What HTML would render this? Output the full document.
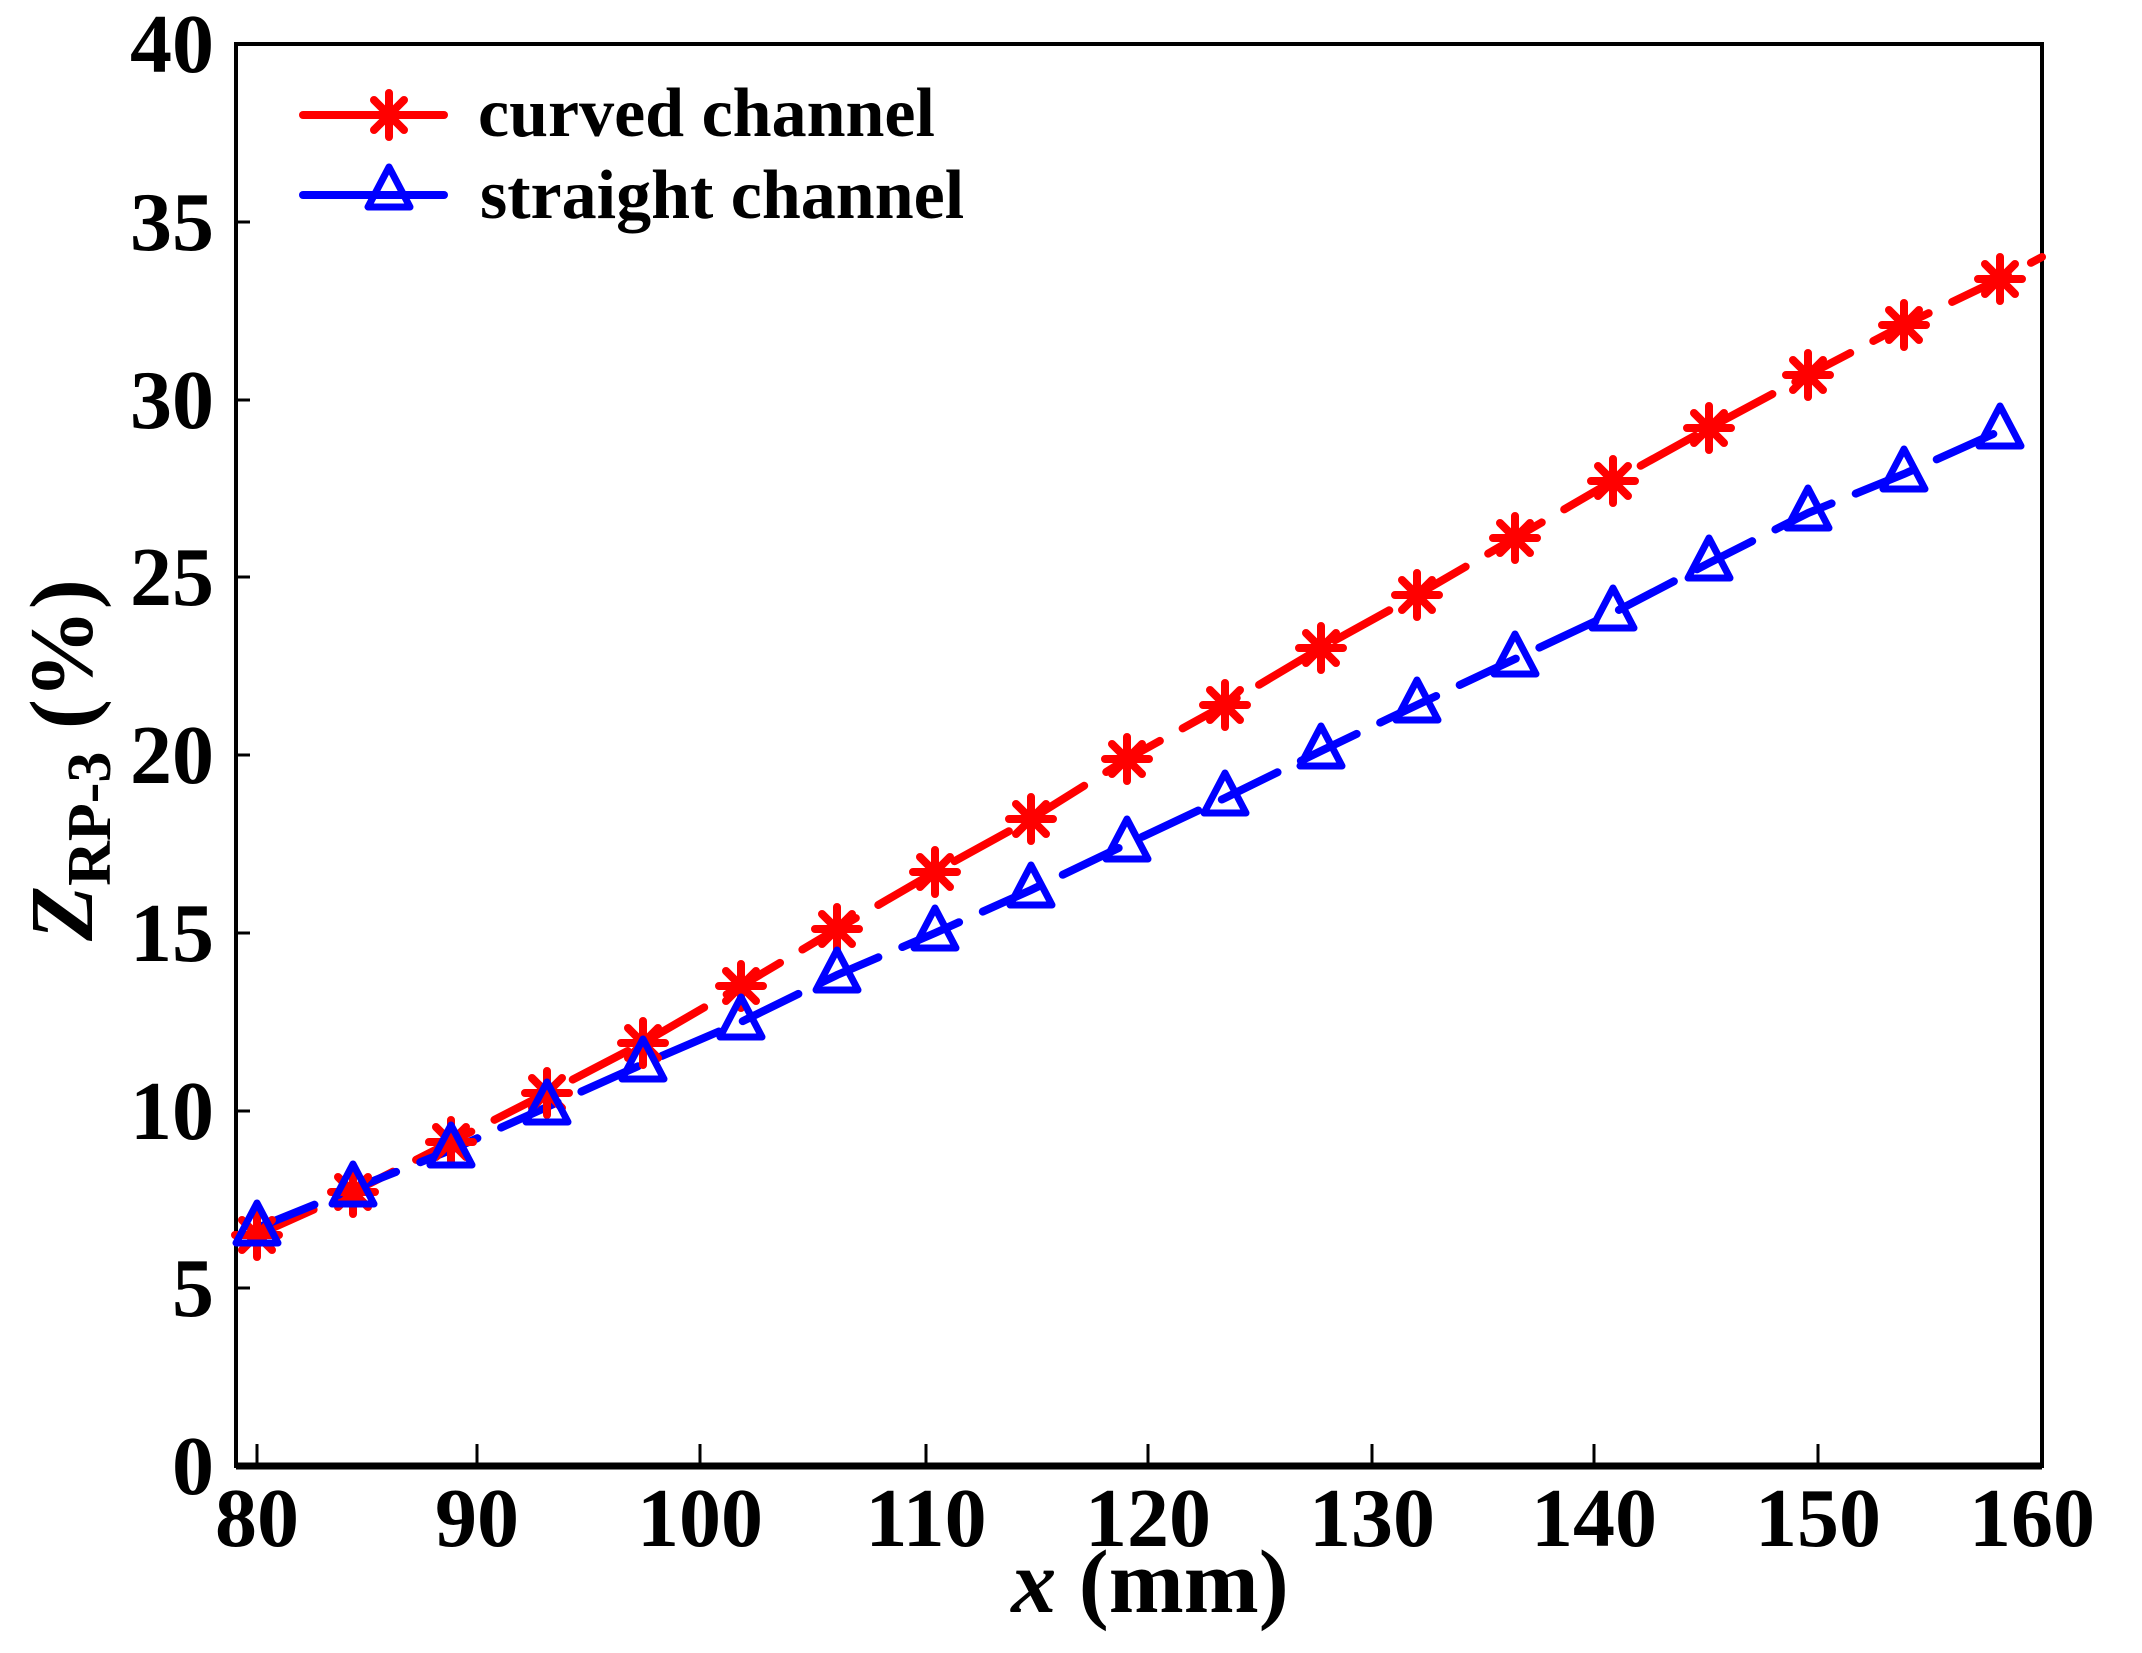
<!DOCTYPE html>
<html><head><meta charset="utf-8"><style>
html,body{margin:0;padding:0;background:#fff;}
svg{display:block;}
text{font-family:"Liberation Serif",serif;font-weight:bold;fill:#000;}
</style></head><body>
<svg width="2142" height="1653" viewBox="0 0 2142 1653" xmlns="http://www.w3.org/2000/svg">
<defs>
<g id="ast"><path d="M0,-22V22M-22,0H22M-15,-15L15,15M-15,15L15,-15" stroke="#f00" stroke-width="8" stroke-linecap="round" fill="none"/></g>
<g id="tri"><path d="M0,-25L-21,15H21Z" stroke="#00f" stroke-width="7" stroke-linejoin="round" fill="none"/></g>
</defs>
<rect x="0" y="0" width="2142" height="1653" fill="#fff"/>
<g stroke="#000" stroke-width="3">
<path d="M257,1466v-22M477,1466v-22M700,1466v-22M926,1466v-22M1148,1466v-22M1372,1466v-22M1594,1466v-22M1818,1466v-22"/>
<path d="M236,1288h14M236,1111h14M236,933h14M236,755h14M236,577h14M236,400h14M236,222h14"/>
</g>
<rect x="236" y="44" width="1806" height="1422" fill="none" stroke="#000" stroke-width="4"/>
<line x1="236" y1="1466" x2="2042" y2="1466" stroke="#000" stroke-width="7"/>
<g font-size="84" text-anchor="middle">
<text x="257" y="1546">80</text><text x="477" y="1546">90</text><text x="700" y="1546">100</text>
<text x="926" y="1546">110</text><text x="1148" y="1546">120</text><text x="1372" y="1546">130</text>
<text x="1594" y="1546">140</text><text x="1818" y="1546">150</text><text x="2032" y="1546">160</text>
</g>
<g font-size="84" text-anchor="end">
<text x="214" y="1494">0</text><text x="214" y="1316">5</text><text x="214" y="1139">10</text>
<text x="214" y="961">15</text><text x="214" y="783">20</text><text x="214" y="605">25</text>
<text x="214" y="428">30</text><text x="214" y="250">35</text><text x="214" y="72">40</text>
</g>
<text x="1150" y="1612" font-size="90" text-anchor="middle"><tspan font-style="italic">x</tspan> (mm)</text>
<text transform="translate(92,760) rotate(-90)" font-size="90" text-anchor="middle"><tspan font-style="italic">Z</tspan><tspan font-size="62" dy="18">RP-3</tspan><tspan dy="-18"> (%)</tspan></text>
<polyline fill="none" stroke="#f00" stroke-width="8" stroke-linecap="round" stroke-dasharray="62 26" points="257,1235 353,1192 451,1142 547,1093 643,1043 741,986 837,929 935,872 1031,819 1127,759 1225,705 1321,648 1417,595 1515,538 1613,481 1709,428 1808,375 1904,325 2000,279 2042,257"/>
<polyline fill="none" stroke="#00f" stroke-width="8" stroke-linecap="round" stroke-dasharray="62 26" points="257,1228 353,1189 451,1150 547,1107 643,1064 741,1022 837,975 935,933 1031,890 1127,844 1225,798 1321,751 1417,705 1515,659 1613,613 1709,563 1808,513 1904,474 2000,431"/>
<g>
<use href="#ast" x="257" y="1235"/><use href="#ast" x="353" y="1192"/><use href="#ast" x="451" y="1142"/><use href="#ast" x="547" y="1093"/><use href="#ast" x="643" y="1043"/><use href="#ast" x="741" y="986"/><use href="#ast" x="837" y="929"/><use href="#ast" x="935" y="872"/><use href="#ast" x="1031" y="819"/><use href="#ast" x="1127" y="759"/><use href="#ast" x="1225" y="705"/><use href="#ast" x="1321" y="648"/><use href="#ast" x="1417" y="595"/><use href="#ast" x="1515" y="538"/><use href="#ast" x="1613" y="481"/><use href="#ast" x="1709" y="428"/><use href="#ast" x="1808" y="375"/><use href="#ast" x="1904" y="325"/><use href="#ast" x="2000" y="279"/>
</g>
<g>
<use href="#tri" x="257" y="1228"/><use href="#tri" x="353" y="1189"/><use href="#tri" x="451" y="1150"/><use href="#tri" x="547" y="1107"/><use href="#tri" x="643" y="1064"/><use href="#tri" x="741" y="1022"/><use href="#tri" x="837" y="975"/><use href="#tri" x="935" y="933"/><use href="#tri" x="1031" y="890"/><use href="#tri" x="1127" y="844"/><use href="#tri" x="1225" y="798"/><use href="#tri" x="1321" y="751"/><use href="#tri" x="1417" y="705"/><use href="#tri" x="1515" y="659"/><use href="#tri" x="1613" y="613"/><use href="#tri" x="1709" y="563"/><use href="#tri" x="1808" y="513"/><use href="#tri" x="1904" y="474"/><use href="#tri" x="2000" y="431"/>
</g>
<line x1="303" y1="115" x2="444" y2="115" stroke="#f00" stroke-width="8" stroke-linecap="round"/>
<use href="#ast" x="389" y="115"/>
<line x1="303" y1="195" x2="444" y2="195" stroke="#00f" stroke-width="8" stroke-linecap="round"/>
<use href="#tri" x="389" y="192"/>
<text x="478" y="136" font-size="70">curved channel</text>
<text x="480" y="218" font-size="70">straight channel</text>
</svg>
</body></html>
